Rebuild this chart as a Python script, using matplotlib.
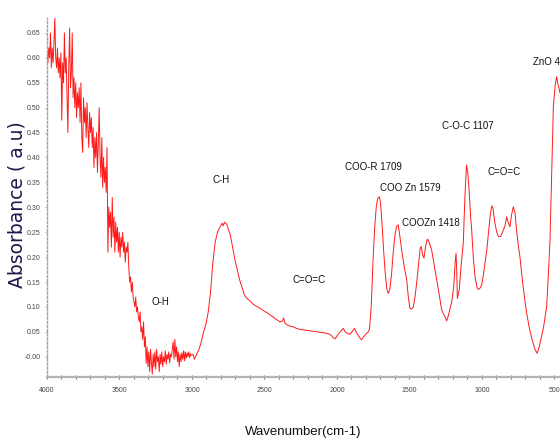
import numpy as np
import matplotlib
matplotlib.use("Agg")
import matplotlib.pyplot as plt
from matplotlib.ticker import MultipleLocator, FuncFormatter

# ---- data (wavenumber cm-1, absorbance a.u.) ----
wn_noisy = list(range(4000, 3003, -6))
abs_noisy = [
    0.61, 0.59, 0.62, 0.60, 0.65, 0.58, 0.62, 0.59, 0.63, 0.68,
    0.60, 0.58, 0.62, 0.57, 0.60, 0.56, 0.61, 0.475, 0.59, 0.55,
    0.65, 0.57, 0.60, 0.52, 0.45, 0.58, 0.66, 0.54, 0.57, 0.65,
    0.52, 0.56, 0.50, 0.55, 0.48, 0.53, 0.50, 0.54, 0.47, 0.55,
    0.44, 0.41, 0.52, 0.47, 0.50, 0.44, 0.51, 0.46, 0.42, 0.49,
    0.45, 0.48, 0.42, 0.46, 0.38, 0.44, 0.40, 0.45, 0.37, 0.43,
    0.50, 0.40, 0.36, 0.44, 0.34, 0.40, 0.35, 0.38, 0.33, 0.42,
    0.21, 0.30, 0.26, 0.29, 0.22, 0.32, 0.24, 0.28, 0.21, 0.27,
    0.23, 0.26, 0.21, 0.25, 0.20, 0.24, 0.22, 0.25, 0.21, 0.23,
    0.19, 0.22, 0.21, 0.23, 0.18, 0.15, 0.16, 0.13, 0.15, 0.12,
    0.11, 0.10, 0.12, 0.09, 0.10, 0.08, 0.07, 0.09, 0.05, 0.06,
    0.035, 0.07, 0.02, 0.04, -0.013, 0.02, -0.02, 0.01, -0.03, 0.015,
    -0.01, -0.035, 0.005, -0.02, 0.01, -0.025, 0.015, -0.01, 0.0, -0.03,
    0.005, -0.015, 0.01, -0.02, 0.0, -0.01, 0.012, -0.015, 0.005, -0.005,
    0.01, -0.012, 0.005, 0.0, 0.015, 0.03, -0.005, 0.035, 0.0, 0.02,
    -0.01, 0.01, -0.02, 0.005, -0.01, 0.008, -0.005, 0.012, -0.008, 0.01,
    -0.003, 0.008, 0.0, 0.01, -0.002, 0.006, 0.003,
]

wn_rest = [
    2992, 2984, 2968, 2952, 2936, 2920, 2904, 2888, 2872, 2856,
    2840, 2824, 2808, 2792, 2784, 2776, 2760, 2748, 2736, 2720,
    2704, 2688, 2672, 2656, 2640, 2624, 2600, 2576, 2552, 2528,
    2504, 2480, 2456, 2440, 2424, 2408, 2392, 2376, 2368, 2360,
    2344, 2320, 2300, 2280, 2256, 2232, 2208, 2184, 2160, 2136,
    2112, 2088, 2072, 2056, 2040, 2024, 2012, 2000, 1984, 1968,
    1956, 1944, 1928, 1912, 1896, 1880, 1864, 1848, 1832, 1816,
    1800, 1784, 1776, 1764, 1752, 1740, 1728, 1716, 1708, 1700,
    1690, 1680, 1668, 1656, 1646, 1636, 1624, 1612, 1600, 1588,
    1578, 1566, 1552, 1536, 1519, 1508, 1497, 1486, 1474, 1462,
    1451, 1438, 1426, 1418, 1410, 1400, 1390, 1380, 1374, 1362,
    1347, 1330, 1312, 1295, 1278, 1267, 1255, 1243, 1230, 1218,
    1209, 1195, 1185, 1179, 1174, 1170, 1164, 1157, 1145, 1129,
    1118, 1107, 1098, 1088, 1078, 1071, 1060, 1048, 1035, 1025,
    1013, 1002, 990, 978, 967, 955, 943, 932, 924, 912,
    899, 888, 876, 870, 853, 842, 830, 820, 807, 796,
    784, 772, 760, 748, 738, 720, 705, 692, 675, 655,
    635, 619, 605, 590, 575, 565, 554, 545, 538, 531,
    525, 519, 513, 508, 495, 488, 485, 478, 470, 462,
]
abs_rest = [
    0.005, -0.005, 0.005, 0.015, 0.03, 0.05, 0.065, 0.09, 0.13, 0.19,
    0.23, 0.25, 0.26, 0.268, 0.263, 0.27, 0.266, 0.255, 0.245, 0.22,
    0.195, 0.175, 0.155, 0.14, 0.125, 0.118, 0.112, 0.105, 0.101, 0.097,
    0.092, 0.088, 0.083, 0.080, 0.076, 0.073, 0.070, 0.072, 0.078, 0.068,
    0.064, 0.061, 0.060, 0.057, 0.055, 0.054, 0.053, 0.052, 0.051, 0.050,
    0.049, 0.048, 0.047, 0.046, 0.043, 0.038, 0.036, 0.042, 0.048, 0.053,
    0.057, 0.050, 0.047, 0.045, 0.050, 0.057, 0.048, 0.040, 0.034, 0.040,
    0.046, 0.050, 0.055, 0.10, 0.19, 0.26, 0.305, 0.32, 0.321, 0.31,
    0.27, 0.22, 0.17, 0.135, 0.127, 0.135, 0.165, 0.21, 0.245, 0.262,
    0.265, 0.241, 0.21, 0.18, 0.154, 0.12, 0.097, 0.096, 0.099, 0.12,
    0.147, 0.185, 0.218, 0.221, 0.205, 0.198, 0.22, 0.234, 0.236, 0.228,
    0.214, 0.185, 0.154, 0.125, 0.094, 0.087, 0.080, 0.072, 0.085, 0.100,
    0.110, 0.14, 0.19, 0.208, 0.17, 0.117, 0.125, 0.134, 0.18, 0.228,
    0.32, 0.385, 0.37, 0.33, 0.28, 0.254, 0.20, 0.161, 0.14, 0.135,
    0.138, 0.144, 0.165, 0.19, 0.214, 0.25, 0.285, 0.303, 0.298, 0.27,
    0.251, 0.242, 0.241, 0.242, 0.254, 0.262, 0.281, 0.27, 0.261, 0.285,
    0.301, 0.288, 0.25, 0.22, 0.20, 0.15, 0.115, 0.088, 0.06, 0.035,
    0.015, 0.007, 0.02, 0.04, 0.06, 0.08, 0.10, 0.15, 0.19, 0.234,
    0.30, 0.368, 0.44, 0.502, 0.545, 0.558, 0.562, 0.55, 0.54, 0.53,
]

peak_labels = ["O-H", "C-H", "C=O=C", "COO-R 1709", "COO Zn 1579",
               "COOZn 1418", "C-O-C 1107", "C=O=C", "ZnO 478"]
label_wn = [3217, 2797, 2193, 1752, 1497, 1352, 1100, 848, 648]
label_abs = [0.110, 0.355, 0.154, 0.381, 0.338, 0.268, 0.464, 0.371, 0.592]
label_ha = ["center"] * 8 + ["left"]

wn = np.array(wn_noisy + wn_rest, dtype=float)
ab = np.array(abs_noisy + abs_rest, dtype=float)

sans = ["Liberation Sans", "DejaVu Sans"]

fig = plt.figure(figsize=(5.6, 4.4), dpi=100)
ax = fig.add_axes([47 / 560, 1 - 376.7 / 440, 1 - 47 / 560, (376.7 - 18) / 440])
ax.plot(wn, ab, color="#ff1a1a", lw=0.7)
ax.set_xlim(4000, 462)
ax.set_ylim(-0.040, 0.680)

for s in ["top", "right"]:
    ax.spines[s].set_visible(False)
ax.spines["bottom"].set_color("#b4b4b4")
ax.spines["bottom"].set_linewidth(1.6)
ax.spines["left"].set_color("#a0a0a0")
ax.spines["left"].set_linewidth(1.0)
ax.spines["left"].set_linestyle((0, (1.5, 1.5)))

ax.xaxis.set_major_locator(MultipleLocator(500))
ax.xaxis.set_minor_locator(MultipleLocator(100))
ax.set_yticks([round(0.05 * i, 2) for i in range(0, 14)])
ax.yaxis.set_major_formatter(FuncFormatter(lambda v, p: "-0.00" if abs(v) < 1e-9 else f"{v:.2f}"))

ax.tick_params(axis="x", which="both", direction="inout", colors="#707070",
               length=3, width=0.8, labelsize=5, labelcolor="#444444", pad=6)
ax.tick_params(axis="y", which="both", direction="out", colors="#a0a0a0",
               length=1.5, width=0.6, labelsize=5, labelcolor="#444444", pad=3)
for t in ax.get_xticklabels() + ax.get_yticklabels():
    t.set_family(sans)

ax.set_xlabel("Wavenumber(cm-1)", fontsize=9.5, family=sans, color="#111111", labelpad=23)
fig.text(17 / 560, 1 - 205 / 440, "Absorbance ( a.u)", rotation=90, fontsize=13.5,
         family=["DejaVu Sans"], color="#1a1a4a", ha="center", va="center")

for txt, x, y, ha in zip(peak_labels, label_wn, label_abs, label_ha):
    ax.text(x, y, txt, fontsize=7, family=sans, ha=ha, va="center", color="#111111")

fig.savefig("out.png", dpi=100)
